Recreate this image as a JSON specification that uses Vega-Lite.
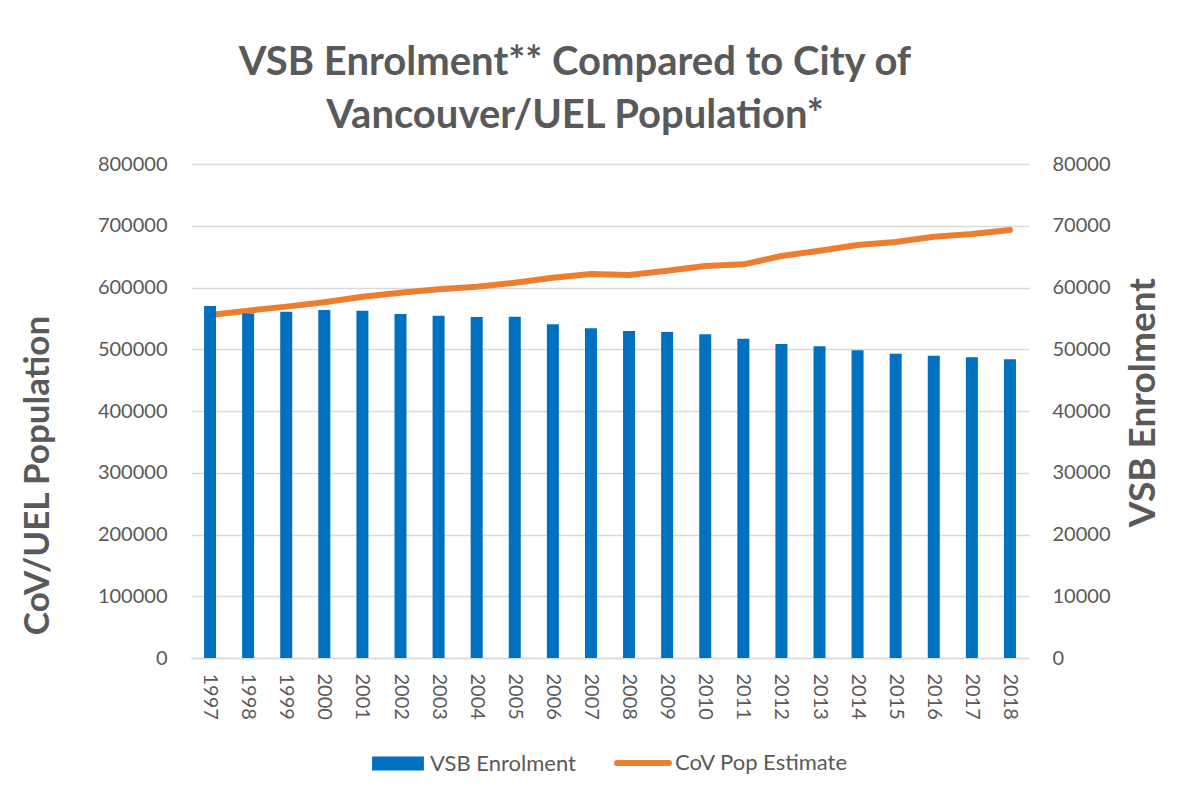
{
  "$schema": "https://vega.github.io/schema/vega-lite/v6.json",
  "autosize": "none",
  "width": 838,
  "height": 494,
  "padding": {"left": 191, "top": 164, "right": 160, "bottom": 140},
  "background": "white",
  "title": {
    "text": ["VSB Enrolment** Compared to City of", "Vancouver/UEL Population*"],
    "font": "Lato",
    "fontSize": 40,
    "fontWeight": "bold",
    "color": "#595959",
    "anchor": "middle",
    "frame": "group",
    "dx": -35,
    "lineHeight": 53,
    "offset": 18
  },
  "config": {
    "view": {"stroke": null},
    "font": "Lato",
    "axis": {
      "labelFont": "Lato",
      "labelFontSize": 20,
      "labelColor": "#595959",
      "titleFont": "Lato",
      "titleColor": "#595959",
      "gridColor": "#d9d9d9",
      "gridWidth": 1.5,
      "ticks": false,
      "domain": false
    }
  },
  "data": {
    "values": [
      {"year": "1997", "enrol": 57000, "pop": 555500},
      {"year": "1998", "enrol": 55800, "pop": 562400},
      {"year": "1999", "enrol": 56080, "pop": 569000},
      {"year": "2000", "enrol": 56360, "pop": 576000},
      {"year": "2001", "enrol": 56250, "pop": 585100},
      {"year": "2002", "enrol": 55710, "pop": 591600},
      {"year": "2003", "enrol": 55440, "pop": 597000},
      {"year": "2004", "enrol": 55220, "pop": 601300},
      {"year": "2005", "enrol": 55280, "pop": 607800},
      {"year": "2006", "enrol": 54040, "pop": 615900},
      {"year": "2007", "enrol": 53390, "pop": 621900},
      {"year": "2008", "enrol": 52960, "pop": 620200},
      {"year": "2009", "enrol": 52790, "pop": 627200},
      {"year": "2010", "enrol": 52420, "pop": 634800},
      {"year": "2011", "enrol": 51720, "pop": 637500},
      {"year": "2012", "enrol": 50850, "pop": 651000},
      {"year": "2013", "enrol": 50480, "pop": 659600},
      {"year": "2014", "enrol": 49830, "pop": 668800},
      {"year": "2015", "enrol": 49280, "pop": 673700},
      {"year": "2016", "enrol": 48960, "pop": 682300},
      {"year": "2017", "enrol": 48690, "pop": 686600},
      {"year": "2018", "enrol": 48370, "pop": 693100}
    ]
  },
  "encoding": {
    "x": {
      "field": "year",
      "type": "ordinal",
      "scale": {"paddingInner": 0, "paddingOuter": 0},
      "axis": {
        "title": null,
        "labelAngle": 90,
        "labelAlign": "left",
        "labelBaseline": "middle",
        "labelPadding": 15,
        "domain": true,
        "domainColor": "#d9d9d9",
        "domainWidth": 1.5
      }
    }
  },
  "layer": [
    {
      "mark": {"type": "line", "color": "#ED7D31", "strokeWidth": 6, "strokeCap": "round", "strokeJoin": "round"},
      "encoding": {
        "y": {
          "field": "pop",
          "type": "quantitative",
          "scale": {"domain": [0, 800000]},
          "axis": {
            "orient": "left",
            "format": "d",
            "values": [0, 100000, 200000, 300000, 400000, 500000, 600000, 700000, 800000],
            "labelPadding": 24,
            "title": "CoV/UEL  Population",
            "titleFontSize": 35,
            "titleFontWeight": "bold",
            "titleAngle": -90,
            "titleAlign": "center",
            "titleBaseline": "middle",
            "titleX": -154,
            "titleY": 311
          }
        },
        "color": {
          "datum": "CoV Pop Estimate",
          "type": "nominal",
          "scale": {"domain": ["VSB Enrolment", "CoV Pop Estimate"], "range": ["#0070C0", "#ED7D31"]},
          "legend": {
            "title": null,
            "orient": "none",
            "direction": "horizontal",
            "columns": 2,
            "legendX": 196,
            "legendY": 588,
            "labelFont": "Lato",
            "labelFontSize": 22,
            "labelColor": "#595959",
            "labelOffset": 21,
            "labelLimit": 400,
            "columnPadding": 29,
            "symbolSize": 2916,
            "encode": {
              "symbols": {
                "update": {
                  "shape": {"signal": "datum.value === 'VSB Enrolment' ? 'M-0.96,-0.26L0.96,-0.26L0.96,0.26L-0.96,0.26Z' : 'M-0.96,0L0.96,0'"},
                  "fill": {"signal": "datum.value === 'VSB Enrolment' ? '#0070C0' : 'transparent'"},
                  "stroke": {"signal": "datum.value === 'VSB Enrolment' ? 'transparent' : '#ED7D31'"},
                  "strokeWidth": {"signal": "datum.value === 'VSB Enrolment' ? 0 : 6"},
                  "strokeCap": {"value": "round"}
                }
              }
            }
          }
        }
      }
    },
    {
      "mark": {"type": "bar", "size": 12, "color": "#0070C0"},
      "encoding": {
        "y": {
          "field": "enrol",
          "type": "quantitative",
          "scale": {"domain": [0, 80000]},
          "axis": {
            "orient": "right",
            "format": "d",
            "values": [0, 10000, 20000, 30000, 40000, 50000, 60000, 70000, 80000],
            "grid": false,
            "labelPadding": 23,
            "title": "VSB Enrolment",
            "titleFontSize": 37,
            "titleFontWeight": "bold",
            "titleAngle": -90,
            "titleAlign": "center",
            "titleBaseline": "middle",
            "titleX": 114,
            "titleY": 238
          }
        },
        "color": {"datum": "VSB Enrolment", "type": "nominal"}
      }
    }
  ],
  "resolve": {"scale": {"y": "independent"}}
}
